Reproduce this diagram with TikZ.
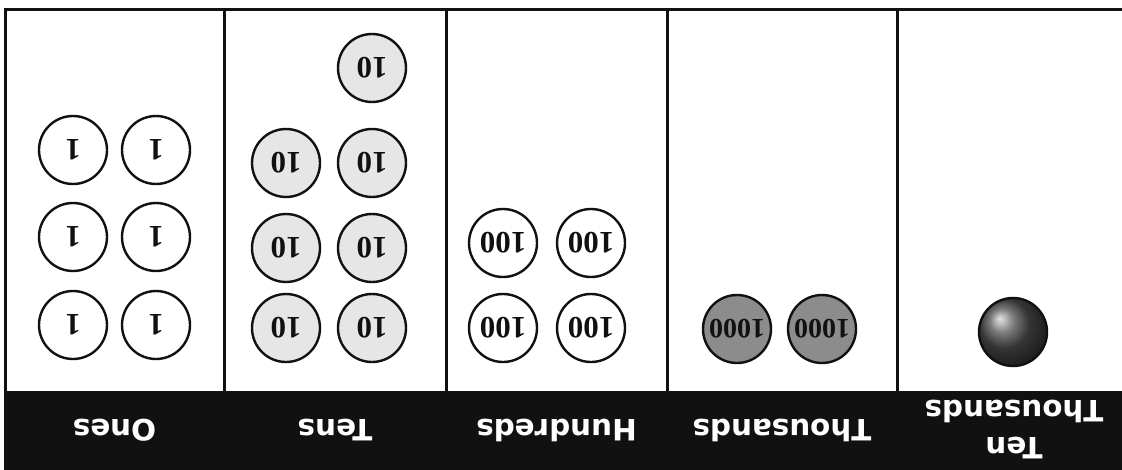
\documentclass[tikz,border=0pt]{standalone}
\usepackage{fontspec}
\setmainfont{Liberation Serif}
\newfontfamily\pvLabelFont{DejaVu Sans}
\usetikzlibrary{positioning}
\definecolor{PVInk}{HTML}{111111}
\definecolor{PVTenFill}{HTML}{E6E6E6}
\definecolor{PVThousandFill}{HTML}{8C8C8C}
\tikzset{
  pvRule/.style={
    line width=1.5pt,
    draw=PVInk
  },
  pvCoin/.style={
    circle,
    draw=PVInk,
    line width=1.2pt,
    minimum size=34pt,
    inner sep=0pt,
    rotate=180,
    text=PVInk,
    font=\fontsize{15.5pt}{15.5pt}\selectfont\bfseries
  },
  pvOne/.style={
    pvCoin,
    fill=white
  },
  pvTen/.style={
    pvCoin,
    fill=PVTenFill
  },
  pvHundred/.style={
    pvCoin,
    fill=white
  },
  pvThousand/.style={
    pvCoin,
    fill=PVThousandFill,
    font=\fontsize{14pt}{14pt}\selectfont\bfseries
  },
  pvTenThousand/.style={
    pvCoin,
    shading=ball,
    ball color=black!70
  },
  pvLabel/.style={
    rotate=180,
    text=white,
    align=center,
    font=\pvLabelFont\bfseries\fontsize{14.7pt}{18.5pt}\selectfont
  }
}

\begin{document}
\begin{tikzpicture}[x=0.5pt, y=-0.5pt]
        \useasboundingbox (0,0) rectangle (1122,470);
        % frame and column rules
        \fill [PVInk] (4,391) rectangle (1122,470);
        \draw [pvRule] (4,9.5) -- (1122,9.5);
        \draw [pvRule] (5,9.5) -- (5,391);
        \draw [pvRule] (224,9.5) -- (224,391);
        \draw [pvRule] (446,9.5) -- (446,391);
        \draw [pvRule] (667,9.5) -- (667,391);
        \draw [pvRule] (897,9.5) -- (897,391);

        % ones
        \node (o1) [pvOne] at (73,150) {1};
        \node (o2) [pvOne] at (156,150) {1};
        \node (o3) [pvOne] at (73,237) {1};
        \node (o4) [pvOne] at (156,237) {1};
        \node (o5) [pvOne] at (73,325) {1};
        \node (o6) [pvOne] at (156,325) {1};

        % tens
        \node (t1) [pvTen] at (372,68) {10};
        \node (t2) [pvTen] at (286,163) {10};
        \node (t3) [pvTen] at (372,163) {10};
        \node (t4) [pvTen] at (286,248) {10};
        \node (t5) [pvTen] at (372,248) {10};
        \node (t6) [pvTen] at (286,328) {10};
        \node (t7) [pvTen] at (372,328) {10};

        % hundreds
        \node (h1) [pvHundred] at (503,243) {100};
        \node (h2) [pvHundred] at (591,243) {100};
        \node (h3) [pvHundred] at (503,328) {100};
        \node (h4) [pvHundred] at (591,328) {100};

        % thousands
        \node (k1) [pvThousand] at (737,329) {1000};
        \node (k2) [pvThousand] at (822,329) {1000};

        % ten thousands
        \node (m1) [pvTenThousand] at (1013,332) {};

        % place names
        \node (lOnes) [pvLabel] at (114.5,430) {Ones};
        \node (lTens) [pvLabel] at (335,430) {Tens};
        \node (lHund) [pvLabel] at (556.5,430) {Hundreds};
        \node (lThou) [pvLabel] at (782,430) {Thousands};
        \node (lTenThou) [pvLabel] at (1014,430) {Ten\\Thousands};
\end{tikzpicture}
\end{document}
